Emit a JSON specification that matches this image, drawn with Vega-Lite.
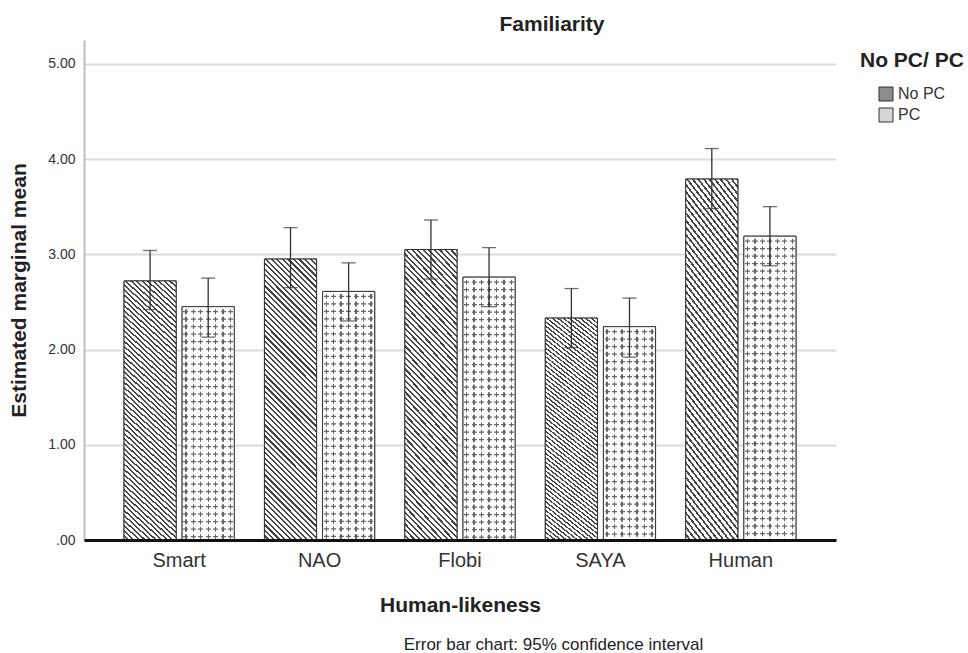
{
"$schema": "https://vega.github.io/schema/vega-lite/v6.json",
"autosize": "none",
"width": 752,
"height": 500,
"padding": {"left": 84, "top": 40, "right": 132, "bottom": 113},
"background": "white",
"config": {"font": "Liberation Sans", "view": {"stroke": null}},
"title": {"text": "Familiarity", "fontSize": 21, "fontWeight": "bold", "color": "#222", "anchor": "middle", "frame": "group", "dx": 92, "offset": -12, "baseline": "alphabetic"},
"data": {"values": [
{"robot": "Smart", "pc": "No PC", "mean": 2.72, "lo": 2.42, "hi": 3.04},
{"robot": "Smart", "pc": "PC", "mean": 2.45, "lo": 2.13, "hi": 2.75},
{"robot": "NAO", "pc": "No PC", "mean": 2.95, "lo": 2.65, "hi": 3.28},
{"robot": "NAO", "pc": "PC", "mean": 2.61, "lo": 2.30, "hi": 2.91},
{"robot": "Flobi", "pc": "No PC", "mean": 3.05, "lo": 2.74, "hi": 3.36},
{"robot": "Flobi", "pc": "PC", "mean": 2.76, "lo": 2.45, "hi": 3.07},
{"robot": "SAYA", "pc": "No PC", "mean": 2.33, "lo": 2.02, "hi": 2.64},
{"robot": "SAYA", "pc": "PC", "mean": 2.24, "lo": 1.92, "hi": 2.54},
{"robot": "Human", "pc": "No PC", "mean": 3.79, "lo": 3.48, "hi": 4.11},
{"robot": "Human", "pc": "PC", "mean": 3.19, "lo": 2.88, "hi": 3.50}
]},
"encoding": {
"x": {"field": "robot", "type": "nominal", "sort": ["Smart", "NAO", "Flobi", "SAYA", "Human"], "scale": {"paddingInner": 0.215, "paddingOuter": 0.285}, "axis": null},
"xOffset": {"field": "pc", "type": "nominal", "sort": ["No PC", "PC"], "scale": {"paddingInner": 0.103, "paddingOuter": 0}}
},
"resolve": {"axis": {"x": "independent", "y": "independent"}},
"layer": [
{
"mark": {"type": "bar", "stroke": "#333", "strokeWidth": 1},
"encoding": {
"y": {"field": "mean", "type": "quantitative", "axis": null},
"fill": {"field": "pc", "type": "nominal", "sort": ["No PC", "PC"], "scale": {"range": ["#8c8c8c", "#d6d6d6"]},
 "legend": {"title": "No PC/ PC", "orient": "right", "offset": 14, "padding": 10, "titleFontSize": 21, "titleFontWeight": "bold", "titleColor": "#222", "titlePadding": 15, "labelFontSize": 16, "labelColor": "#333", "labelOffset": 4, "symbolType": "square", "symbolSize": 196, "symbolStrokeWidth": 1, "symbolStrokeColor": "#333", "symbolOffset": 18, "rowPadding": 3}}
}
},
{
"mark": {"type": "bar", "stroke": null},
"encoding": {
"x": {"field": "robot", "type": "nominal", "sort": ["Smart", "NAO", "Flobi", "SAYA", "Human"], "scale": {"paddingInner": 0.215, "paddingOuter": 0.285},
 "axis": {"title": "Human-likeness", "titleFontSize": 21, "titleFontWeight": "bold", "titleColor": "#222", "labelFontSize": 20, "labelColor": "#333", "labelAngle": 0, "ticks": false, "tickSize": 0, "labelPadding": 10, "domainColor": "#111", "domainWidth": 3, "titleY": 71, "titleBaseline": "alphabetic", "zindex": 1, "grid": false}},
"y": {"field": "mean", "type": "quantitative", "scale": {"domain": [0, 5.25], "nice": false},
 "axis": {"values": [0, 1, 2, 3, 4, 5], "labelExpr": "datum.value == 0 ? '.00' : format(datum.value, '.2f')", "title": "Estimated marginal mean", "titleFontSize": 21, "titleFontWeight": "bold", "titleColor": "#222", "labelFontSize": 14, "labelColor": "#333", "labelPadding": 9, "ticks": false, "tickSize": 0, "domainColor": "#bdbdbd", "domainWidth": 2, "grid": true, "gridColor": "#dcdcdc", "gridWidth": 2, "titleX": -65, "titleY": 250, "titleBaseline": "middle", "zindex": 0}},
"fill": {"condition": {"test": "datum.pc === 'No PC'", "value": {"gradient": "linear", "x1": 0, "y1": 1, "x2": 0.213, "y2": -0.147, "stops": [
{"offset":0,"color":"#fff"},{"offset":0.0103,"color":"#fff"},{"offset":0.0103,"color":"#444"},{"offset":0.0167,"color":"#444"},
{"offset":0.0167,"color":"#fff"},{"offset":0.027,"color":"#fff"},{"offset":0.027,"color":"#444"},{"offset":0.0333,"color":"#444"},
{"offset":0.0333,"color":"#fff"},{"offset":0.0436,"color":"#fff"},{"offset":0.0436,"color":"#444"},{"offset":0.05,"color":"#444"},
{"offset":0.05,"color":"#fff"},{"offset":0.0603,"color":"#fff"},{"offset":0.0603,"color":"#444"},{"offset":0.0667,"color":"#444"},
{"offset":0.0667,"color":"#fff"},{"offset":0.077,"color":"#fff"},{"offset":0.077,"color":"#444"},{"offset":0.0833,"color":"#444"},
{"offset":0.0833,"color":"#fff"},{"offset":0.0936,"color":"#fff"},{"offset":0.0936,"color":"#444"},{"offset":0.1,"color":"#444"},
{"offset":0.1,"color":"#fff"},{"offset":0.1103,"color":"#fff"},{"offset":0.1103,"color":"#444"},{"offset":0.1167,"color":"#444"},
{"offset":0.1167,"color":"#fff"},{"offset":0.127,"color":"#fff"},{"offset":0.127,"color":"#444"},{"offset":0.1333,"color":"#444"},
{"offset":0.1333,"color":"#fff"},{"offset":0.1436,"color":"#fff"},{"offset":0.1436,"color":"#444"},{"offset":0.15,"color":"#444"},
{"offset":0.15,"color":"#fff"},{"offset":0.1603,"color":"#fff"},{"offset":0.1603,"color":"#444"},{"offset":0.1667,"color":"#444"},
{"offset":0.1667,"color":"#fff"},{"offset":0.177,"color":"#fff"},{"offset":0.177,"color":"#444"},{"offset":0.1833,"color":"#444"},
{"offset":0.1833,"color":"#fff"},{"offset":0.1936,"color":"#fff"},{"offset":0.1936,"color":"#444"},{"offset":0.2,"color":"#444"},
{"offset":0.2,"color":"#fff"},{"offset":0.2103,"color":"#fff"},{"offset":0.2103,"color":"#444"},{"offset":0.2167,"color":"#444"},
{"offset":0.2167,"color":"#fff"},{"offset":0.227,"color":"#fff"},{"offset":0.227,"color":"#444"},{"offset":0.2333,"color":"#444"},
{"offset":0.2333,"color":"#fff"},{"offset":0.2436,"color":"#fff"},{"offset":0.2436,"color":"#444"},{"offset":0.25,"color":"#444"},
{"offset":0.25,"color":"#fff"},{"offset":0.2603,"color":"#fff"},{"offset":0.2603,"color":"#444"},{"offset":0.2667,"color":"#444"},
{"offset":0.2667,"color":"#fff"},{"offset":0.277,"color":"#fff"},{"offset":0.277,"color":"#444"},{"offset":0.2833,"color":"#444"},
{"offset":0.2833,"color":"#fff"},{"offset":0.2936,"color":"#fff"},{"offset":0.2936,"color":"#444"},{"offset":0.3,"color":"#444"},
{"offset":0.3,"color":"#fff"},{"offset":0.3103,"color":"#fff"},{"offset":0.3103,"color":"#444"},{"offset":0.3167,"color":"#444"},
{"offset":0.3167,"color":"#fff"},{"offset":0.327,"color":"#fff"},{"offset":0.327,"color":"#444"},{"offset":0.3333,"color":"#444"},
{"offset":0.3333,"color":"#fff"},{"offset":0.3436,"color":"#fff"},{"offset":0.3436,"color":"#444"},{"offset":0.35,"color":"#444"},
{"offset":0.35,"color":"#fff"},{"offset":0.3603,"color":"#fff"},{"offset":0.3603,"color":"#444"},{"offset":0.3667,"color":"#444"},
{"offset":0.3667,"color":"#fff"},{"offset":0.377,"color":"#fff"},{"offset":0.377,"color":"#444"},{"offset":0.3833,"color":"#444"},
{"offset":0.3833,"color":"#fff"},{"offset":0.3936,"color":"#fff"},{"offset":0.3936,"color":"#444"},{"offset":0.4,"color":"#444"},
{"offset":0.4,"color":"#fff"},{"offset":0.4103,"color":"#fff"},{"offset":0.4103,"color":"#444"},{"offset":0.4167,"color":"#444"},
{"offset":0.4167,"color":"#fff"},{"offset":0.427,"color":"#fff"},{"offset":0.427,"color":"#444"},{"offset":0.4333,"color":"#444"},
{"offset":0.4333,"color":"#fff"},{"offset":0.4436,"color":"#fff"},{"offset":0.4436,"color":"#444"},{"offset":0.45,"color":"#444"},
{"offset":0.45,"color":"#fff"},{"offset":0.4603,"color":"#fff"},{"offset":0.4603,"color":"#444"},{"offset":0.4667,"color":"#444"},
{"offset":0.4667,"color":"#fff"},{"offset":0.477,"color":"#fff"},{"offset":0.477,"color":"#444"},{"offset":0.4833,"color":"#444"},
{"offset":0.4833,"color":"#fff"},{"offset":0.4936,"color":"#fff"},{"offset":0.4936,"color":"#444"},{"offset":0.5,"color":"#444"},
{"offset":0.5,"color":"#fff"},{"offset":0.5103,"color":"#fff"},{"offset":0.5103,"color":"#444"},{"offset":0.5167,"color":"#444"},
{"offset":0.5167,"color":"#fff"},{"offset":0.527,"color":"#fff"},{"offset":0.527,"color":"#444"},{"offset":0.5333,"color":"#444"},
{"offset":0.5333,"color":"#fff"},{"offset":0.5436,"color":"#fff"},{"offset":0.5436,"color":"#444"},{"offset":0.55,"color":"#444"},
{"offset":0.55,"color":"#fff"},{"offset":0.5603,"color":"#fff"},{"offset":0.5603,"color":"#444"},{"offset":0.5667,"color":"#444"},
{"offset":0.5667,"color":"#fff"},{"offset":0.577,"color":"#fff"},{"offset":0.577,"color":"#444"},{"offset":0.5833,"color":"#444"},
{"offset":0.5833,"color":"#fff"},{"offset":0.5936,"color":"#fff"},{"offset":0.5936,"color":"#444"},{"offset":0.6,"color":"#444"},
{"offset":0.6,"color":"#fff"},{"offset":0.6103,"color":"#fff"},{"offset":0.6103,"color":"#444"},{"offset":0.6167,"color":"#444"},
{"offset":0.6167,"color":"#fff"},{"offset":0.627,"color":"#fff"},{"offset":0.627,"color":"#444"},{"offset":0.6333,"color":"#444"},
{"offset":0.6333,"color":"#fff"},{"offset":0.6436,"color":"#fff"},{"offset":0.6436,"color":"#444"},{"offset":0.65,"color":"#444"},
{"offset":0.65,"color":"#fff"},{"offset":0.6603,"color":"#fff"},{"offset":0.6603,"color":"#444"},{"offset":0.6667,"color":"#444"},
{"offset":0.6667,"color":"#fff"},{"offset":0.677,"color":"#fff"},{"offset":0.677,"color":"#444"},{"offset":0.6833,"color":"#444"},
{"offset":0.6833,"color":"#fff"},{"offset":0.6936,"color":"#fff"},{"offset":0.6936,"color":"#444"},{"offset":0.7,"color":"#444"},
{"offset":0.7,"color":"#fff"},{"offset":0.7103,"color":"#fff"},{"offset":0.7103,"color":"#444"},{"offset":0.7167,"color":"#444"},
{"offset":0.7167,"color":"#fff"},{"offset":0.727,"color":"#fff"},{"offset":0.727,"color":"#444"},{"offset":0.7333,"color":"#444"},
{"offset":0.7333,"color":"#fff"},{"offset":0.7436,"color":"#fff"},{"offset":0.7436,"color":"#444"},{"offset":0.75,"color":"#444"},
{"offset":0.75,"color":"#fff"},{"offset":0.7603,"color":"#fff"},{"offset":0.7603,"color":"#444"},{"offset":0.7667,"color":"#444"},
{"offset":0.7667,"color":"#fff"},{"offset":0.777,"color":"#fff"},{"offset":0.777,"color":"#444"},{"offset":0.7833,"color":"#444"},
{"offset":0.7833,"color":"#fff"},{"offset":0.7936,"color":"#fff"},{"offset":0.7936,"color":"#444"},{"offset":0.8,"color":"#444"},
{"offset":0.8,"color":"#fff"},{"offset":0.8103,"color":"#fff"},{"offset":0.8103,"color":"#444"},{"offset":0.8167,"color":"#444"},
{"offset":0.8167,"color":"#fff"},{"offset":0.827,"color":"#fff"},{"offset":0.827,"color":"#444"},{"offset":0.8333,"color":"#444"},
{"offset":0.8333,"color":"#fff"},{"offset":0.8436,"color":"#fff"},{"offset":0.8436,"color":"#444"},{"offset":0.85,"color":"#444"},
{"offset":0.85,"color":"#fff"},{"offset":0.8603,"color":"#fff"},{"offset":0.8603,"color":"#444"},{"offset":0.8667,"color":"#444"},
{"offset":0.8667,"color":"#fff"},{"offset":0.877,"color":"#fff"},{"offset":0.877,"color":"#444"},{"offset":0.8833,"color":"#444"},
{"offset":0.8833,"color":"#fff"},{"offset":0.8936,"color":"#fff"},{"offset":0.8936,"color":"#444"},{"offset":0.9,"color":"#444"},
{"offset":0.9,"color":"#fff"},{"offset":0.9103,"color":"#fff"},{"offset":0.9103,"color":"#444"},{"offset":0.9167,"color":"#444"},
{"offset":0.9167,"color":"#fff"},{"offset":0.927,"color":"#fff"},{"offset":0.927,"color":"#444"},{"offset":0.9333,"color":"#444"},
{"offset":0.9333,"color":"#fff"},{"offset":0.9436,"color":"#fff"},{"offset":0.9436,"color":"#444"},{"offset":0.95,"color":"#444"},
{"offset":0.95,"color":"#fff"},{"offset":0.9603,"color":"#fff"},{"offset":0.9603,"color":"#444"},{"offset":0.9667,"color":"#444"},
{"offset":0.9667,"color":"#fff"},{"offset":0.977,"color":"#fff"},{"offset":0.977,"color":"#444"},{"offset":0.9833,"color":"#444"},
{"offset":0.9833,"color":"#fff"},{"offset":0.9936,"color":"#fff"},{"offset":0.9936,"color":"#444"},{"offset":1,"color":"#444"}
]}},
 "value": {"gradient": "linear", "x1": 0, "y1": 0, "x2": 1, "y2": 0, "stops": [
{"offset":0,"color":"#fff"},
{"offset":0.0584,"color":"#fff"},{"offset":0.0584,"color":"#666"},{"offset":0.0844,"color":"#666"},{"offset":0.0844,"color":"#fff"},
{"offset":0.2013,"color":"#fff"},{"offset":0.2013,"color":"#666"},{"offset":0.2273,"color":"#666"},{"offset":0.2273,"color":"#fff"},
{"offset":0.3441,"color":"#fff"},{"offset":0.3441,"color":"#666"},{"offset":0.3701,"color":"#666"},{"offset":0.3701,"color":"#fff"},
{"offset":0.487,"color":"#fff"},{"offset":0.487,"color":"#666"},{"offset":0.513,"color":"#666"},{"offset":0.513,"color":"#fff"},
{"offset":0.6299,"color":"#fff"},{"offset":0.6299,"color":"#666"},{"offset":0.6559,"color":"#666"},{"offset":0.6559,"color":"#fff"},
{"offset":0.7727,"color":"#fff"},{"offset":0.7727,"color":"#666"},{"offset":0.7987,"color":"#666"},{"offset":0.7987,"color":"#fff"},
{"offset":0.9156,"color":"#fff"},{"offset":0.9156,"color":"#666"},{"offset":0.9416,"color":"#666"},{"offset":0.9416,"color":"#fff"},
{"offset":1,"color":"#fff"}
]}}
}
},
{
"transform": [{"filter": "datum.pc === 'PC'"}],
"mark": {"type": "rule", "stroke": "#fff", "strokeWidth": 52, "strokeDash": [2.5, 5], "strokeCap": "butt"},
"encoding": {"y": {"field": "mean", "type": "quantitative", "axis": null}, "y2": {"datum": 0}}
},
{
"transform": [{"filter": "datum.pc === 'PC'"}],
"mark": {"type": "rule", "stroke": "#666", "strokeWidth": 52, "strokeDash": [1.3, 6.2], "strokeDashOffset": 3.15, "strokeCap": "butt"},
"encoding": {"y": {"field": "mean", "type": "quantitative", "axis": null}, "y2": {"datum": 0}}
},
{
"transform": [{"filter": "datum.pc === 'PC'"}],
"mark": {"type": "bar", "stroke": null, "fill": {"gradient": "linear", "x1": 0, "y1": 0, "x2": 1, "y2": 0, "stops": [
{"offset":0,"color":"#fff"},{"offset":0.023,"color":"#fff"},{"offset":0.023,"color":"rgba(255,255,255,0)"},
{"offset":0.1199,"color":"rgba(255,255,255,0)"},{"offset":0.1199,"color":"#fff"},{"offset":0.1659,"color":"#fff"},{"offset":0.1659,"color":"rgba(255,255,255,0)"},
{"offset":0.2627,"color":"rgba(255,255,255,0)"},{"offset":0.2627,"color":"#fff"},{"offset":0.3087,"color":"#fff"},{"offset":0.3087,"color":"rgba(255,255,255,0)"},
{"offset":0.4056,"color":"rgba(255,255,255,0)"},{"offset":0.4056,"color":"#fff"},{"offset":0.4516,"color":"#fff"},{"offset":0.4516,"color":"rgba(255,255,255,0)"},
{"offset":0.5484,"color":"rgba(255,255,255,0)"},{"offset":0.5484,"color":"#fff"},{"offset":0.5944,"color":"#fff"},{"offset":0.5944,"color":"rgba(255,255,255,0)"},
{"offset":0.6913,"color":"rgba(255,255,255,0)"},{"offset":0.6913,"color":"#fff"},{"offset":0.7373,"color":"#fff"},{"offset":0.7373,"color":"rgba(255,255,255,0)"},
{"offset":0.8341,"color":"rgba(255,255,255,0)"},{"offset":0.8341,"color":"#fff"},{"offset":0.8801,"color":"#fff"},{"offset":0.8801,"color":"rgba(255,255,255,0)"},
{"offset":0.977,"color":"rgba(255,255,255,0)"},{"offset":0.977,"color":"#fff"},{"offset":1,"color":"#fff"}
]}},
"encoding": {"y": {"field": "mean", "type": "quantitative", "axis": null}}
},
{
"mark": {"type": "bar", "filled": false, "stroke": "#333", "strokeWidth": 1},
"encoding": {"y": {"field": "mean", "type": "quantitative", "axis": null}}
},
{
"mark": {"type": "rule", "stroke": "#333", "strokeWidth": 1.3},
"encoding": {
"x": {"field": "robot", "type": "nominal", "sort": ["Smart", "NAO", "Flobi", "SAYA", "Human"], "scale": {"paddingInner": 0.215, "paddingOuter": 0.285},
 "axis": {"orient": "bottom", "labels": false, "ticks": false, "domain": false, "grid": false, "title": "Error bar chart: 95% confidence interval", "titleFontSize": 17, "titleFontWeight": "normal", "titleColor": "#222", "titleX": 469, "titleY": 109, "titleBaseline": "alphabetic"}},
"y": {"field": "lo", "type": "quantitative", "axis": null},
"y2": {"field": "hi"}
}
},
{
"mark": {"type": "tick", "color": "#333", "size": 14, "thickness": 1.3},
"encoding": {"y": {"field": "hi", "type": "quantitative", "axis": null}}
},
{
"mark": {"type": "tick", "color": "#333", "size": 14, "thickness": 1.3},
"encoding": {"y": {"field": "lo", "type": "quantitative", "axis": null}}
}
]
}
